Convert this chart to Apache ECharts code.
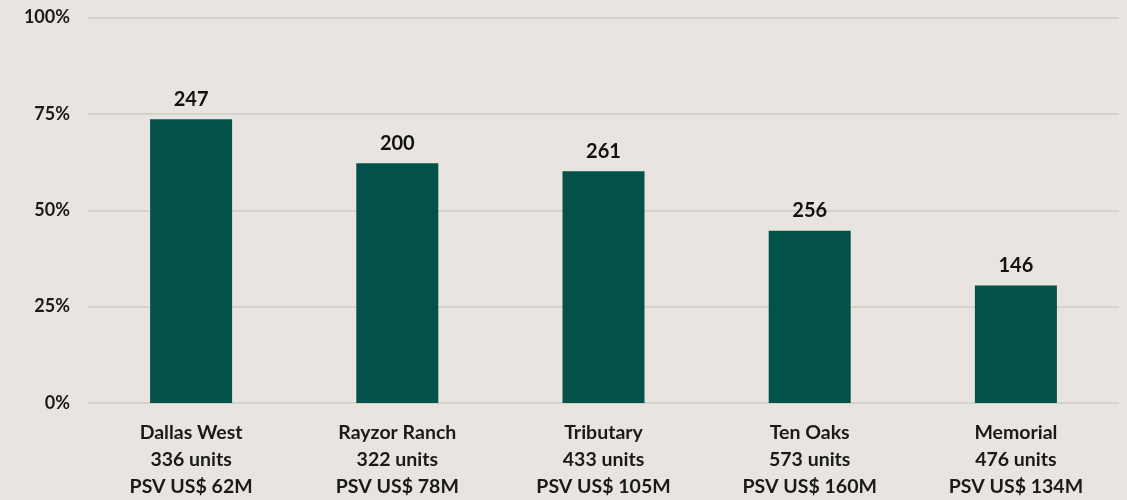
<!DOCTYPE html>
<html>
<head>
<meta charset="utf-8">
<script src="https://cdn.jsdelivr.net/npm/echarts@6/dist/echarts.min.js"></script>
<style>
  html, body { margin: 0; padding: 0; background: #e8e4df; }
  #chart { width: 1127px; height: 500px; }
</style>
</head>
<body>
<div id="chart"></div>
<script>
// 项目名称、单位数、PSV
var projects = ['Dallas West', 'Rayzor Ranch', 'Tributary', 'Ten Oaks', 'Memorial'];
var units = [336, 322, 433, 573, 476];
var psv = ['US$ 62M', 'US$ 78M', 'US$ 105M', 'US$ 160M', 'US$ 134M'];
// 柱高 (%) 与柱顶标签
var percents = [73.6, 62.2, 60.1, 44.7, 30.5];
var topLabels = [247, 200, 261, 256, 146];
var yTicks = [0, 25, 50, 75, 100];

var categories = projects.map(function (p, i) {
    return p + '\n' + units[i] + ' units\nPSV ' + psv[i];
});

var chart = echarts.init(document.getElementById('chart'));
var option = {
    backgroundColor: '#e8e4df',
    animation: false,
    grid: { left: 88, right: 8, top: 17.5, bottom: 96.5, containLabel: false },
    xAxis: {
        type: 'category',
        data: categories,
        axisLine: { show: false },
        axisTick: { show: false },
        axisLabel: {
            margin: 16,
            color: '#1a1a1a',
            fontFamily: 'Lato',
            fontWeight: 'bold',
            fontSize: 19.5,
            lineHeight: 27
        }
    },
    yAxis: {
        type: 'value',
        min: yTicks[0],
        max: yTicks[yTicks.length - 1],
        interval: 25,
        axisLine: { show: false },
        axisTick: { show: false },
        splitLine: { lineStyle: { color: '#d5d1cb', width: 2 } },
        axisLabel: {
            margin: 18,
            color: '#1a1a1a',
            fontFamily: 'Lato',
            fontWeight: 'bold',
            fontSize: 18,
            formatter: '{value}%'
        }
    },
    series: [{
        type: 'bar',
        barWidth: 82,
        data: percents,
        itemStyle: { color: '#02524a' },
        label: {
            show: true,
            position: 'top',
            distance: 10,
            color: '#111',
            fontFamily: 'Lato',
            fontWeight: 'bold',
            fontSize: 20,
            formatter: function (p) { return topLabels[p.dataIndex]; }
        }
    }]
};
chart.setOption(option, true);
</script>
</body>
</html>
